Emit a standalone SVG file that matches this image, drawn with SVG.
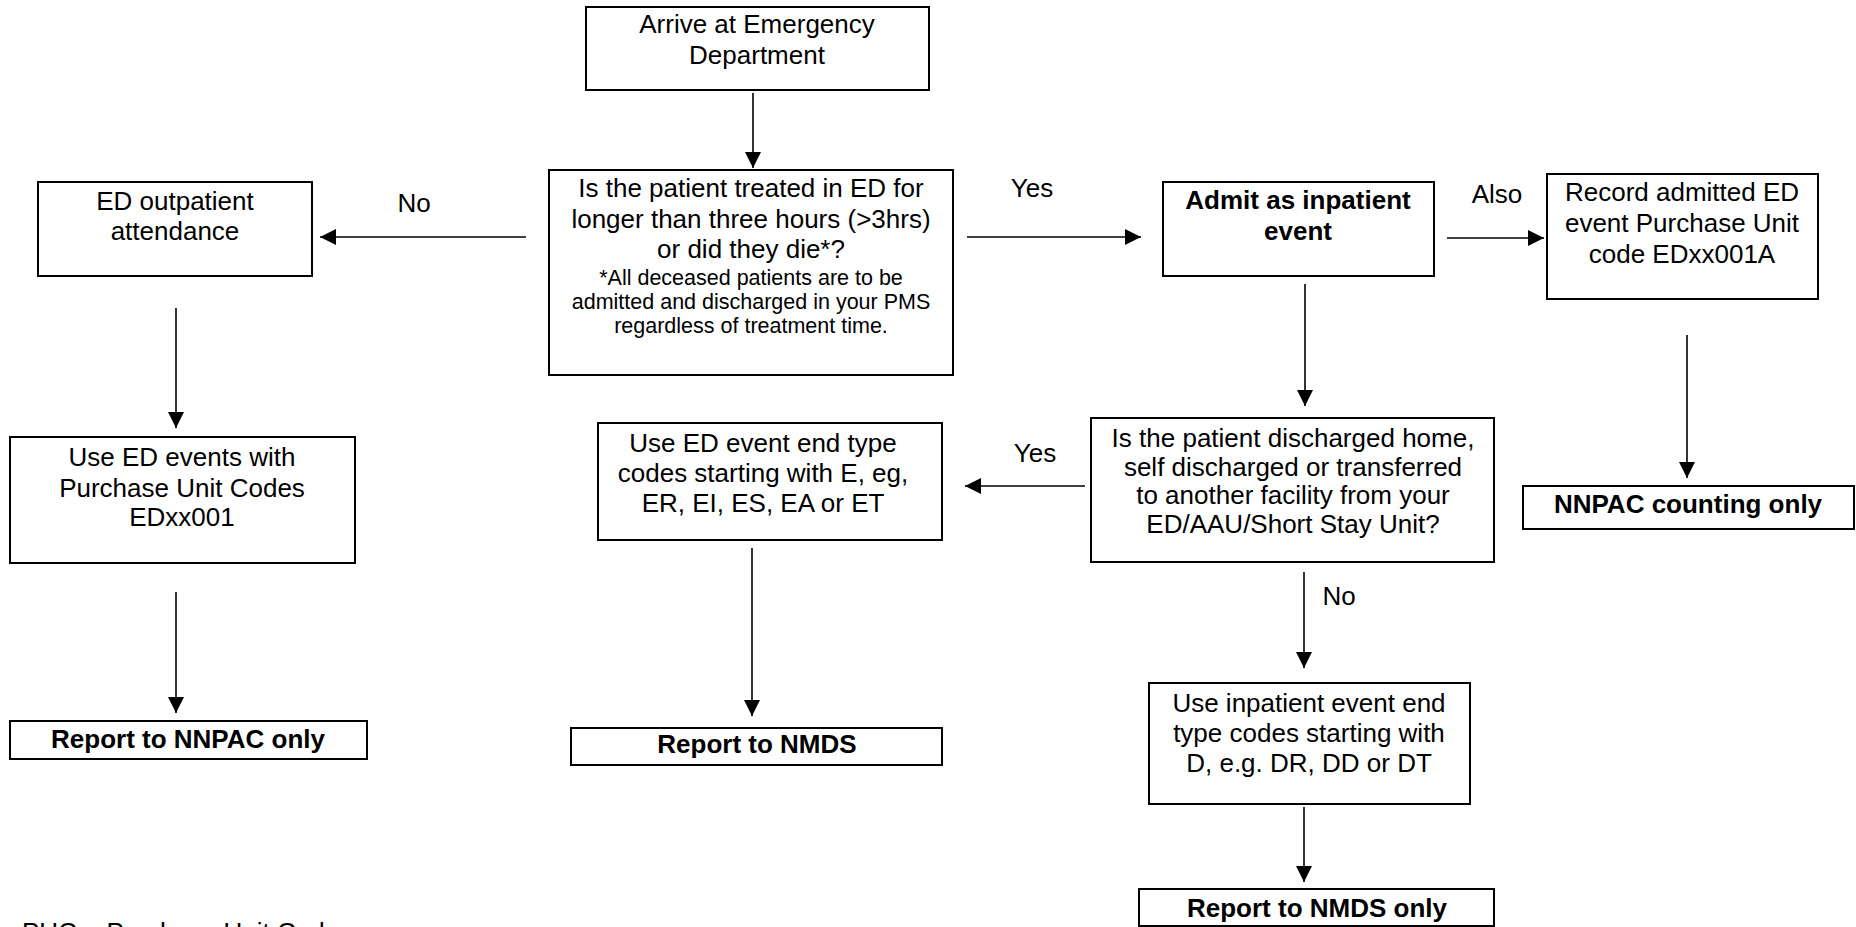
<svg xmlns="http://www.w3.org/2000/svg" width="1856" height="927" viewBox="0 0 1856 927">
<style>
  .box { fill: #ffffff; stroke: #000000; stroke-width: 2; }
  .t { font-family: "Liberation Sans", Arial, sans-serif; font-size: 26px; fill: #000000; text-anchor: middle; }
  .s { font-family: "Liberation Sans", Arial, sans-serif; font-size: 21.5px; fill: #000000; text-anchor: middle; }
  .b { font-weight: bold; }
  .lbl { font-family: "Liberation Sans", Arial, sans-serif; font-size: 26px; fill: #000000; text-anchor: middle; }
  .conn line { stroke: #000000; stroke-width: 1.6; fill: none; marker-end: url(#arrow); }
</style>
<defs>
  <marker id="arrow" markerUnits="userSpaceOnUse" markerWidth="16" markerHeight="16" refX="16" refY="8" orient="auto">
    <path d="M0,0 L16,8 L0,16 z" fill="#000000"/>
  </marker>
</defs>
<rect x="0" y="0" width="1856" height="927" fill="#ffffff"/>

<g id="connectors" class="conn">
  <line x1="753" y1="93" x2="753" y2="168"/>
  <line x1="526" y1="237" x2="320" y2="237"/>
  <line x1="967" y1="237" x2="1141" y2="237"/>
  <line x1="1447" y1="238" x2="1544" y2="238"/>
  <line x1="1687" y1="335" x2="1687" y2="478"/>
  <line x1="1305" y1="284" x2="1305" y2="406"/>
  <line x1="1085" y1="486" x2="965" y2="486"/>
  <line x1="752" y1="548" x2="752" y2="716"/>
  <line x1="176" y1="308" x2="176" y2="428"/>
  <line x1="176" y1="592" x2="176" y2="713"/>
  <line x1="1304" y1="572" x2="1304" y2="668"/>
  <line x1="1304" y1="807" x2="1304" y2="882"/>
</g>

<g id="labels">
  <text class="lbl" x="414" y="212">No</text>
  <text class="lbl" x="1032" y="197">Yes</text>
  <text class="lbl" x="1497" y="203">Also</text>
  <text class="lbl" x="1035" y="462">Yes</text>
  <text class="lbl" x="1339" y="605">No</text>
</g>

<g id="arrive">
  <rect class="box" x="586" y="7" width="343" height="83"/>
  <text class="t" x="757" y="33">Arrive at Emergency</text>
  <text class="t" x="757" y="64">Department</text>
</g>

<g id="decision-time">
  <rect class="box" x="549" y="170" width="404" height="205"/>
  <text class="t" x="751" y="197">Is the patient treated in ED for</text>
  <text class="t" x="751" y="228">longer than three hours (&gt;3hrs)</text>
  <text class="t" x="751" y="258">or did they die*?</text>
  <text class="s" x="751" y="285">*All deceased patients are to be</text>
  <text class="s" x="751" y="309">admitted and discharged in your PMS</text>
  <text class="s" x="751" y="333">regardless of treatment time.</text>
</g>

<g id="ed-outpatient">
  <rect class="box" x="38" y="182" width="274" height="94"/>
  <text class="t" x="175" y="210">ED outpatient</text>
  <text class="t" x="175" y="240">attendance</text>
</g>

<g id="admit">
  <rect class="box" x="1163" y="182" width="271" height="94"/>
  <text class="t b" x="1298" y="209">Admit as inpatient</text>
  <text class="t b" x="1298" y="240">event</text>
</g>

<g id="record-admitted">
  <rect class="box" x="1547" y="174" width="271" height="125"/>
  <text class="t" x="1682" y="201">Record admitted ED</text>
  <text class="t" x="1682" y="232">event Purchase Unit</text>
  <text class="t" x="1682" y="263">code EDxx001A</text>
</g>

<g id="nnpac-counting">
  <rect class="box" x="1523" y="486" width="331" height="43"/>
  <text class="t b" x="1688" y="513">NNPAC counting only</text>
</g>

<g id="decision-discharged">
  <rect class="box" x="1091" y="418" width="403" height="144"/>
  <text class="t" x="1293" y="447">Is the patient discharged home,</text>
  <text class="t" x="1293" y="475.5">self discharged or transferred</text>
  <text class="t" x="1293" y="504">to another facility from your</text>
  <text class="t" x="1293" y="532.5">ED/AAU/Short Stay Unit?</text>
</g>

<g id="ed-event-end">
  <rect class="box" x="598" y="423" width="344" height="117"/>
  <text class="t" x="763" y="452">Use ED event end type</text>
  <text class="t" x="763" y="482">codes starting with E, eg,</text>
  <text class="t" x="763" y="512">ER, EI, ES, EA or ET</text>
</g>

<g id="report-nmds">
  <rect class="box" x="571" y="728" width="371" height="37"/>
  <text class="t b" x="757" y="753">Report to NMDS</text>
</g>

<g id="ed-events-puc">
  <rect class="box" x="10" y="437" width="345" height="126"/>
  <text class="t" x="182" y="466">Use ED events with</text>
  <text class="t" x="182" y="497">Purchase Unit Codes</text>
  <text class="t" x="182" y="526">EDxx001</text>
</g>

<g id="report-nnpac">
  <rect class="box" x="10" y="721" width="357" height="38"/>
  <text class="t b" x="188" y="748">Report to NNPAC only</text>
</g>

<g id="inpatient-end">
  <rect class="box" x="1149" y="683" width="321" height="121"/>
  <text class="t" x="1309" y="712">Use inpatient event end</text>
  <text class="t" x="1309" y="742">type codes starting with</text>
  <text class="t" x="1309" y="772">D, e.g. DR, DD or DT</text>
</g>

<g id="report-nmds-only">
  <rect class="box" x="1139" y="889" width="355" height="37"/>
  <text class="t b" x="1317" y="917">Report to NMDS only</text>
</g>

<g id="footnote">
  <text class="lbl" x="22" y="941" style="text-anchor:start">PUC = Purchase Unit Code</text>
</g>
</svg>
